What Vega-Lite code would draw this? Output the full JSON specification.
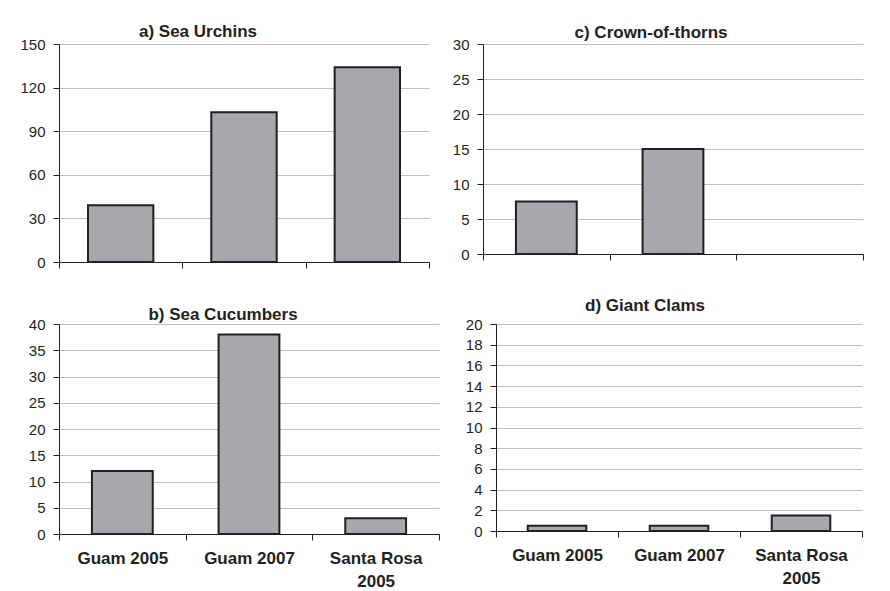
{
  "$schema": "https://vega.github.io/schema/vega-lite/v6.json",
  "background": "white",
  "padding": {"left": 19, "top": 23, "right": 10, "bottom": 0},
  "data": {"values": [
    {"panel": "a", "site": "Guam 2005", "value": 39},
    {"panel": "a", "site": "Guam 2007", "value": 103},
    {"panel": "a", "site": "Santa Rosa 2005", "value": 134},
    {"panel": "b", "site": "Guam 2005", "value": 12},
    {"panel": "b", "site": "Guam 2007", "value": 38},
    {"panel": "b", "site": "Santa Rosa 2005", "value": 3},
    {"panel": "c", "site": "Guam 2005", "value": 7.5},
    {"panel": "c", "site": "Guam 2007", "value": 15},
    {"panel": "c", "site": "Santa Rosa 2005", "value": null},
    {"panel": "d", "site": "Guam 2005", "value": 0.5},
    {"panel": "d", "site": "Guam 2007", "value": 0.5},
    {"panel": "d", "site": "Santa Rosa 2005", "value": 1.5}
  ]},
  "spacing": 27,
  "vconcat": [
    {
      "spacing": 13,
      "hconcat": [
        {
          "title": {"text": "a) Sea Urchins", "dx": -46, "offset": -4},
          "width": 370, "height": 218,
          "transform": [{"filter": "datum.panel == 'a'"}],
          "mark": {"type": "bar", "width": {"band": 0.53}, "fill": "#A6A8AB", "stroke": "#231F20", "strokeWidth": 2},
          "encoding": {
            "x": {"field": "site", "type": "nominal", "sort": null, "scale": {"domain": ["Guam 2005", "Guam 2007", "Santa Rosa 2005"], "paddingInner": 0, "paddingOuter": 0}, "axis": {"labels": false, "title": null}},
            "y": {"field": "value", "type": "quantitative", "scale": {"domain": [0, 150]}, "axis": {"values": [0, 30, 60, 90, 120, 150], "title": null}}
          }
        },
        {
          "title": {"text": "c) Crown-of-thorns", "dx": -22, "offset": -5},
          "width": 380, "height": 210,
          "transform": [{"filter": "datum.panel == 'c'"}],
          "mark": {"type": "bar", "width": {"band": 0.48}, "fill": "#A6A8AB", "stroke": "#231F20", "strokeWidth": 2},
          "encoding": {
            "x": {"field": "site", "type": "nominal", "sort": null, "scale": {"domain": ["Guam 2005", "Guam 2007", "Santa Rosa 2005"], "paddingInner": 0, "paddingOuter": 0}, "axis": {"labels": false, "title": null}},
            "y": {"field": "value", "type": "quantitative", "scale": {"domain": [0, 30]}, "axis": {"values": [0, 5, 10, 15, 20, 25, 30], "title": null}}
          }
        }
      ]
    },
    {
      "spacing": 16,
      "hconcat": [
        {
          "title": {"text": "b) Sea Cucumbers", "dx": -26, "offset": -7},
          "width": 380, "height": 210,
          "transform": [{"filter": "datum.panel == 'b'"}],
          "mark": {"type": "bar", "width": {"band": 0.48}, "fill": "#A6A8AB", "stroke": "#231F20", "strokeWidth": 2},
          "encoding": {
            "x": {"field": "site", "type": "nominal", "sort": null, "scale": {"domain": ["Guam 2005", "Guam 2007", "Santa Rosa 2005"], "paddingInner": 0, "paddingOuter": 0}, "axis": {"title": null, "labelAngle": 0, "labelFontWeight": "bold", "labelFontSize": 17, "labelPadding": 10, "labelLineHeight": 23, "labelBaseline": "top", "labelExpr": "datum.label == 'Santa Rosa 2005' ? ['Santa Rosa', '2005'] : datum.label"}},
            "y": {"field": "value", "type": "quantitative", "scale": {"domain": [0, 40]}, "axis": {"values": [0, 5, 10, 15, 20, 25, 30, 35, 40], "title": null}}
          }
        },
        {
          "title": {"text": "d) Giant Clams", "dx": -34, "offset": 2},
          "width": 366, "height": 207,
          "transform": [{"filter": "datum.panel == 'd'"}],
          "mark": {"type": "bar", "width": {"band": 0.48}, "fill": "#A6A8AB", "stroke": "#231F20", "strokeWidth": 2},
          "encoding": {
            "x": {"field": "site", "type": "nominal", "sort": null, "scale": {"domain": ["Guam 2005", "Guam 2007", "Santa Rosa 2005"], "paddingInner": 0, "paddingOuter": 0}, "axis": {"title": null, "labelAngle": 0, "labelFontWeight": "bold", "labelFontSize": 17, "labelPadding": 10, "labelLineHeight": 23, "labelBaseline": "top", "labelExpr": "datum.label == 'Santa Rosa 2005' ? ['Santa Rosa', '2005'] : datum.label"}},
            "y": {"field": "value", "type": "quantitative", "scale": {"domain": [0, 20]}, "axis": {"values": [0, 2, 4, 6, 8, 10, 12, 14, 16, 18, 20], "title": null}}
          }
        }
      ]
    }
  ],
  "config": {
    "font": "Liberation Sans",
    "view": {"stroke": null},
    "axis": {
      "domainColor": "#231F20", "domainWidth": 1,
      "tickColor": "#231F20", "tickWidth": 1, "tickSize": 6,
      "labelColor": "#231F20", "labelFont": "Liberation Sans", "labelFontSize": 15, "labelPadding": 8,
      "gridColor": "#BEBEBE", "gridWidth": 1.2
    },
    "axisX": {"grid": false, "tickBand": "extent"},
    "axisY": {"grid": true, "minExtent": 40, "maxExtent": 40},
    "title": {"font": "Liberation Sans", "fontSize": 17, "fontWeight": "bold", "color": "#231F20", "anchor": "middle", "frame": "group"}
  }
}
